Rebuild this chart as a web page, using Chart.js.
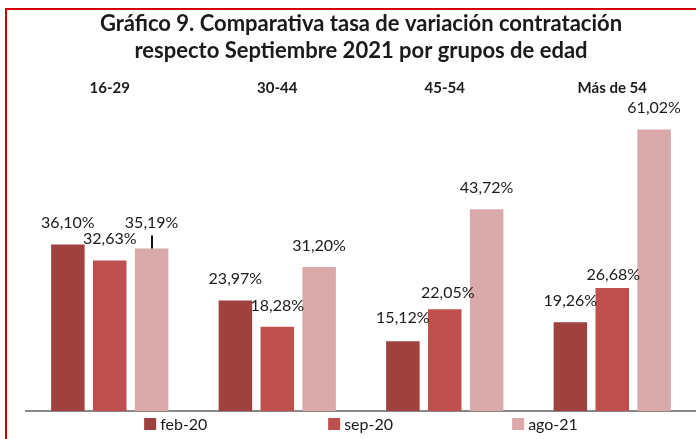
<!DOCTYPE html>
<html>
<head>
<meta charset="utf-8">
<script src="https://cdn.jsdelivr.net/npm/chart.js@4.4.1/dist/chart.umd.min.js"></script>
<style>
html, body { margin: 0; padding: 0; background: #fff; }
#wrap { position: relative; width: 696px; height: 439px; overflow: hidden; }
#wrap canvas { position: absolute; left: 0; top: 0; }
#frame { position: absolute; left: 5px; top: 8px; width: 720px; height: 460px;
  border-left: 2px solid #d40000; border-top: 2px solid #d40000; pointer-events: none; }
</style>
</head>
<body>
<div id="wrap">
  <canvas id="myChart" width="696" height="439"></canvas>
  <div id="frame"></div>
</div>
<script>
var groups = ['16-29', '30-44', '45-54', 'Más de 54'];
var seriesNames = ['feb-20', 'sep-20', 'ago-21'];
var feb20 = [36.10, 23.97, 15.12, 19.26];
var sep20 = [32.63, 18.28, 22.05, 26.68];
var ago21 = [35.19, 31.20, 43.72, 61.02];
var titleLines = ['Gráfico 9. Comparativa tasa de variación contratación',
                  'respecto Septiembre 2021 por grupos de edad'];

var colors = ['#9e413f', '#c0504d', '#daa9a9'];
var textColor = '#1a1a1a';

// manual nudges of some value labels, like in the original sheet: "dataset,index" -> [dx, dy]
var labelShift = {
  '2,0': [0, -5],
  '0,2': [0, -2],
  '1,2': [3, 5],
  '1,3': [1, 8]
};

function formatPct(v) {
  return v.toFixed(2).replace('.', ',') + '%';
}

var valueLabels = {
  id: 'valueLabels',
  afterDatasetsDraw: function(chart) {
    var ctx = chart.ctx;
    ctx.save();
    ctx.font = '16px Lato';
    ctx.fillStyle = textColor;
    ctx.textAlign = 'center';
    ctx.textBaseline = 'alphabetic';
    chart.data.datasets.forEach(function(ds, d) {
      chart.getDatasetMeta(d).data.forEach(function(bar, i) {
        var s = labelShift[d + ',' + i] || [0, 0];
        ctx.fillText(formatPct(ds.data[i]), bar.x + s[0], bar.y - 16 + s[1]);
        if (d == 2 && i == 0) {
          // leader line
          ctx.strokeStyle = '#111';
          ctx.lineWidth = 2;
          ctx.beginPath();
          ctx.moveTo(Math.round(bar.x), bar.y - 13);
          ctx.lineTo(Math.round(bar.x), bar.y);
          ctx.stroke();
        }
      });
    });
    ctx.restore();
  }
};

var bottomLegend = {
  id: 'bottomLegend',
  afterDraw: function(chart) {
    var ctx = chart.ctx;
    var area = chart.chartArea;
    var step = 184, box = 12, y = 424;
    ctx.save();
    ctx.font = '16px Lato';
    ctx.textBaseline = 'middle';
    var sets = chart.data.datasets;
    var last = ctx.measureText(sets[sets.length - 1].label).width;
    var total = step * (sets.length - 1) + box + 4 + last;
    var x0 = (area.left + area.right) / 2 - total / 2;
    sets.forEach(function(ds, i) {
      var x = x0 + i * step;
      ctx.fillStyle = ds.backgroundColor;
      ctx.fillRect(x, y - box / 2, box, box);
      ctx.fillStyle = textColor;
      ctx.fillText(ds.label, x + box + 4, y + 1);
    });
    ctx.restore();
  }
};

var ctx = document.getElementById('myChart').getContext('2d');
var chart = new Chart(ctx, {
  type: 'bar',
  data: {
    labels: groups,
    datasets: [
      { label: seriesNames[0], data: feb20, backgroundColor: colors[0] },
      { label: seriesNames[1], data: sep20, backgroundColor: colors[1] },
      { label: seriesNames[2], data: ago21, backgroundColor: colors[2] }
    ]
  },
  options: {
    responsive: false,
    animation: false,
    devicePixelRatio: 1,
    categoryPercentage: 0.75,
    barPercentage: 0.8,
    layout: { padding: { left: 26, right: 0, top: 0, bottom: 20 } },
    plugins: {
      legend: { display: false },
      tooltip: { enabled: false },
      title: {
        display: true,
        text: titleLines,
        color: textColor,
        font: { family: 'Lato', size: 22, weight: 'bold', lineHeight: 1.25 },
        padding: { top: 10, bottom: 11 }
      }
    },
    scales: {
      x: {
        position: 'bottom',
        grid: { display: false },
        border: { display: true, color: '#888', width: 2 },
        ticks: { display: false }
      },
      x2: {
        type: 'category',
        position: 'top',
        offset: true,
        labels: groups,
        grid: { display: false, drawTicks: false },
        border: { display: false },
        ticks: { color: textColor, padding: 3, font: { family: 'Lato', size: 15, weight: 'bold' } }
      },
      y: {
        display: false,
        min: 0,
        max: 67.4
      }
    }
  },
  plugins: [valueLabels, bottomLegend]
});
</script>
</body>
</html>
